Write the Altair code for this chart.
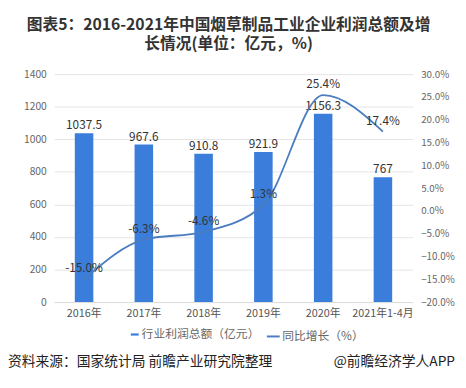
import altair as alt
import pandas as pd

years = ["2016年", "2017年", "2018年", "2019年", "2020年", "2021年1-4月"]
profit = [1037.5, 967.6, 910.8, 921.9, 1156.3, 767]
growth = [-15.0, -6.3, -4.6, 1.3, 25.4, 17.4]
profit_labels = ["1037.5", "967.6", "910.8", "921.9", "1156.3", "767"]
growth_labels = ["-15.0%", "-6.3%", "-4.6%", "1.3%", "25.4%", "17.4%"]

bar_name = "行业利润总额（亿元）"
line_name = "同比增长（%）"
source_left = "资料来源：国家统计局 前瞻产业研究院整理"
source_right = "@前瞻经济学人APP"

df = pd.DataFrame({
    "year": years, "profit": profit, "growth": growth,
    "plabel": profit_labels, "glabel": growth_labels,
    "s1": bar_name, "s2": line_name,
})

FONT = "Noto Sans CJK SC"
BAR_C = "#3a7ddb"
LINE_C = "#4a7cc0"
W, H = 365, 232

x = alt.X("year:N", sort=years, title=None,
          scale=alt.Scale(paddingInner=0.69, paddingOuter=0.345),
          axis=alt.Axis(labelAngle=0, labelColor="#555", labelFontSize=11,
                        labelFont=FONT, ticks=False, domainColor="#ddd",
                        labelPadding=6))

yl = alt.Y("profit:Q", title=None,
           scale=alt.Scale(domain=[0, 1400]),
           axis=alt.Axis(values=list(range(0, 1401, 200)), labelColor="#666",
                         labelFontSize=10.5, labelFont=FONT, ticks=False, format="d",
                         domain=False, gridColor="#e4e4e4", labelPadding=8))

yr = alt.Y("growth:Q", title=None, scale=alt.Scale(domain=[-20, 30]),
           axis=alt.Axis(orient="right", values=list(range(-20, 31, 5)),
                         labelExpr="format(datum.value, '.1f') + '%'",
                         labelColor="#666", labelFontSize=10, labelFont=FONT,
                         ticks=False, domain=False, grid=False, labelPadding=8))

base = alt.Chart(df)

bars = base.mark_bar(color=BAR_C).encode(
    x=x, y=yl,
    color=alt.Color("s1:N", scale=alt.Scale(domain=[bar_name], range=[BAR_C]),
                    legend=alt.Legend(title=None, orient="none", legendX=76, legendY=259,
                                      symbolType="M-1.6,-0.45H1.6V0.45H-1.6Z",
                                      symbolSize=25, labelFont=FONT, labelFontSize=12,
                                      labelColor="#666", symbolStrokeWidth=0,
                                      labelOffset=1)),
)

bar_text = base.mark_text(dy=-8, fontSize=12, font=FONT, color="#333").encode(
    x=x, y=yl, text="plabel:N")

line = base.mark_line(interpolate="monotone", strokeWidth=1.8).encode(
    x=x, y=yr,
    stroke=alt.Stroke("s2:N", scale=alt.Scale(domain=[line_name], range=[LINE_C]),
                      legend=alt.Legend(title=None, orient="none", legendX=215, legendY=259,
                                        symbolType="stroke", symbolSize=170,
                                        symbolStrokeWidth=2, labelFont=FONT,
                                        labelFontSize=12, labelColor="#666",
                                        labelOffset=1)),
)

line_text = base.mark_text(dy=-11, fontSize=12, font=FONT, color="#333").encode(
    x=x, y=yr, text="glabel:N")

src = alt.Chart(pd.DataFrame({"t": [source_left]})).mark_text(
    align="left", baseline="middle", fontSize=14, font=FONT, color="#222"
).encode(x=alt.value(-47), y=alt.value(293), text="t:N")

src2 = alt.Chart(pd.DataFrame({"t": [source_right]})).mark_text(
    align="right", baseline="middle", fontSize=14, font=FONT, color="#222"
).encode(x=alt.value(408), y=alt.value(293), text="t:N")

left = alt.layer(bars, bar_text)
right = alt.layer(line, line_text)

chart = alt.layer(left, right, src, src2).resolve_scale(
    y="independent", color="independent"
).properties(
    width=W, height=H,
    padding={"left": 47, "top": 64, "right": 46, "bottom": 76},
    autosize=alt.AutoSizeParams(type="none"),
    title=alt.TitleParams(
        text=["图表5：2016-2021年中国烟草制品工业企业利润总额及增", "长情况(单位：亿元，%)"],
        fontSize=16, font=FONT, fontWeight="bold", color="#333",
        anchor="middle", dx=-5, offset=18, lineHeight=19),
).configure_view(stroke=None)

chart.save("out.html", embed_options={"renderer": "svg", "actions": False})
